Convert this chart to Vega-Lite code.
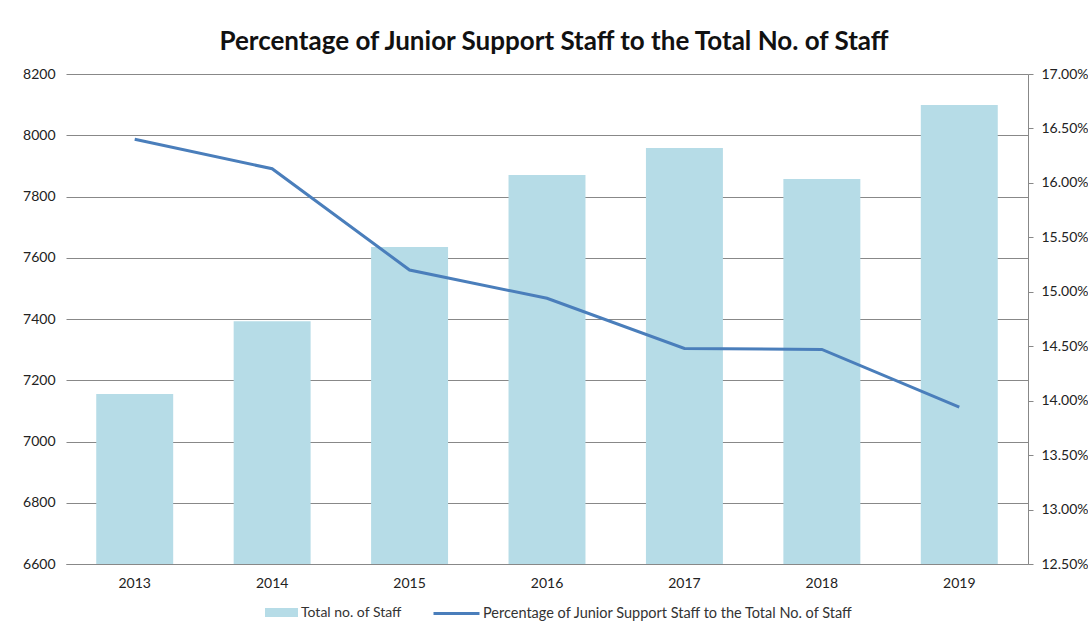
{
  "$schema": "https://vega.github.io/schema/vega-lite/v6.json",
  "autosize": "none",
  "width": 962,
  "height": 490,
  "padding": {"left": 66, "top": 74, "right": 60, "bottom": 66},
  "background": "white",
  "config": {
    "view": {"stroke": null},
    "font": "Lato",
    "axis": {"labelFont": "Lato", "labelFontSize": 14, "labelColor": "#222", "titleFontSize": 0}
  },
  "title": {
    "text": "Percentage of Junior Support Staff to the Total No. of Staff",
    "font": "Lato",
    "fontSize": 26,
    "fontWeight": "bold",
    "color": "#111",
    "anchor": "middle",
    "offset": 12,
    "dx": 7
  },
  "data": {
    "values": [
      {"year": "2013", "staff": 7155, "pct": 0.1640},
      {"year": "2014", "staff": 7393, "pct": 0.1613},
      {"year": "2015", "staff": 7635, "pct": 0.1520},
      {"year": "2016", "staff": 7870, "pct": 0.1494},
      {"year": "2017", "staff": 7958, "pct": 0.1448},
      {"year": "2018", "staff": 7857, "pct": 0.1447},
      {"year": "2019", "staff": 8099, "pct": 0.1394}
    ]
  },
  "encoding": {
    "x": {
      "field": "year",
      "type": "ordinal",
      "scale": {"paddingInner": 0.44, "paddingOuter": 0.22},
      "axis": {"title": null, "labelAngle": 0, "ticks": false, "domain": true, "domainColor": "#888", "labelPadding": 12}
    }
  },
  "layer": [
    {
      "mark": {"type": "bar", "clip": true},
      "encoding": {
        "y": {
          "field": "staff",
          "type": "quantitative",
          "scale": {"domain": [6600, 8200], "zero": false, "nice": false},
          "axis": {
            "title": null,
            "orient": "left",
            "values": [6600, 6800, 7000, 7200, 7400, 7600, 7800, 8000, 8200],
            "format": "d",
            "domain": false,
            "ticks": false,
            "labelPadding": 11,
            "grid": true,
            "gridColor": "#888",
            "gridWidth": 1,
            "gridOpacity": 1
          }
        },
        "fill": {
          "datum": "Total no. of Staff",
          "scale": {"range": ["#b6dce7"]},
          "legend": {
            "title": null,
            "orient": "none",
            "legendX": 199,
            "legendY": 522,
            "symbolType": "M-1,-0.27H1V0.27H-1Z",
            "symbolSize": 1089,
            "symbolStrokeWidth": 0,
            "symbolOpacity": 1,
            "labelFont": "Lato",
            "labelFontSize": 14,
            "labelColor": "#333",
            "labelOffset": 3,
            "labelLimit": 500
          }
        }
      }
    },
    {
      "mark": {"type": "line", "strokeWidth": 3},
      "encoding": {
        "y": {
          "field": "pct",
          "type": "quantitative",
          "scale": {"domain": [0.125, 0.17], "zero": false, "nice": false},
          "axis": {
            "title": null,
            "orient": "right",
            "values": [0.125, 0.13, 0.135, 0.14, 0.145, 0.15, 0.155, 0.16, 0.165, 0.17],
            "format": ".2%",
            "domain": true,
            "domainColor": "#888",
            "ticks": true,
            "tickColor": "#888",
            "tickSize": 5,
            "labelPadding": 8,
            "grid": false
          }
        },
        "stroke": {
          "datum": "Percentage of Junior Support Staff to the Total No. of Staff",
          "scale": {"range": ["#4a7ebb"]},
          "legend": {
            "title": null,
            "orient": "none",
            "legendX": 366,
            "legendY": 515,
            "symbolType": "stroke",
            "symbolSize": 2116,
            "symbolStrokeWidth": 3,
            "labelFont": "Lato",
            "labelFontSize": 14.5,
            "labelColor": "#333",
            "labelOffset": 2,
            "labelLimit": 600
          }
        }
      }
    }
  ],
  "resolve": {"scale": {"y": "independent"}}
}
